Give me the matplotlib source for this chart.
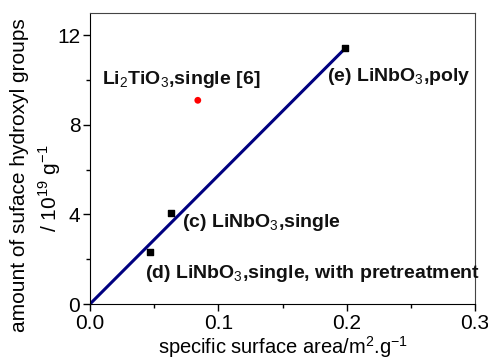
import matplotlib.pyplot as plt
from matplotlib.ticker import MultipleLocator

plt.rcParams['font.family'] = ['Liberation Sans', 'DejaVu Sans']
plt.rcParams['mathtext.fontset'] = 'custom'
plt.rcParams['mathtext.rm'] = 'Liberation Sans'
plt.rcParams['mathtext.bf'] = 'Liberation Sans:bold'

# LiNbO3 samples (area m2/g, OH groups 1e19/g)
linbo_area = [0.063, 0.047, 0.199]
linbo_oh = [4.06, 2.32, 11.43]
linbo_labels = ['(c) LiNbO$_3$,single',
                '(d) LiNbO$_3$,single, with pretreatment',
                '(e) LiNbO$_3$,poly']

# reference point from [6]
ref_area = [0.084]
ref_oh = [9.1]
ref_label = 'Li$_2$TiO$_3$,single [6]'

# fit line through origin
fit_area = [0.0, 0.199]
fit_oh = [0.0, 11.43]

fig = plt.figure(figsize=(4.88, 3.6), dpi=100)
ax = fig.add_axes([90/488, 1 - 304/360, 385/488, 291/360])

ax.plot(fit_area, fit_oh, color='#000080', lw=2.2, zorder=2)
ax.scatter(linbo_area, linbo_oh, marker='s', s=24, color='black', zorder=3)
ax.scatter(ref_area, ref_oh, marker='o', s=24, color='red', edgecolors='none', zorder=3)

fs = 14
kw = dict(fontsize=fs, fontweight='bold', va='center', color='#111111', clip_on=False)
ax.text(0.0718, 3.66, linbo_labels[0], **kw)
ax.text(0.0425, 1.38, linbo_labels[1], **kw)
ax.text(0.1845, 10.15, linbo_labels[2], **kw)
ax.text(0.0093, 10.05, ref_label, **kw)

ax.set_xlim(0, 0.3)
ax.set_ylim(0, 13)
ax.xaxis.set_major_locator(MultipleLocator(0.1))
ax.xaxis.set_minor_locator(MultipleLocator(0.05))
ax.yaxis.set_major_locator(MultipleLocator(4))
ax.yaxis.set_minor_locator(MultipleLocator(2))
ax.xaxis.set_major_formatter(plt.FuncFormatter(lambda v, p: f'{v:.1f}'))
ax.yaxis.set_major_formatter(plt.FuncFormatter(lambda v, p: f'{v:.0f}'))
ax.tick_params(axis='both', which='major', direction='out', length=5, width=1, labelsize=15, pad=2)
ax.tick_params(axis='both', which='minor', direction='out', length=3, width=1)

for s in ['left', 'bottom']:
    ax.spines[s].set_color('black')
for s in ['top', 'right']:
    ax.spines[s].set_color('#444444')

ax.set_xlabel('specific surface area/m$^2$.g$^{-1}$', fontsize=14.5, labelpad=1)
fig.text(20/488, 1 - 175/360, 'amount of suface hydroxyl groups', rotation=90, fontsize=15, ha='center', va='center')
fig.text(50/488, 1 - 188/360, '/ 10$^{19}$ g$^{-1}$', rotation=90, fontsize=15, ha='center', va='center')

fig.savefig('out.png', dpi=100)
